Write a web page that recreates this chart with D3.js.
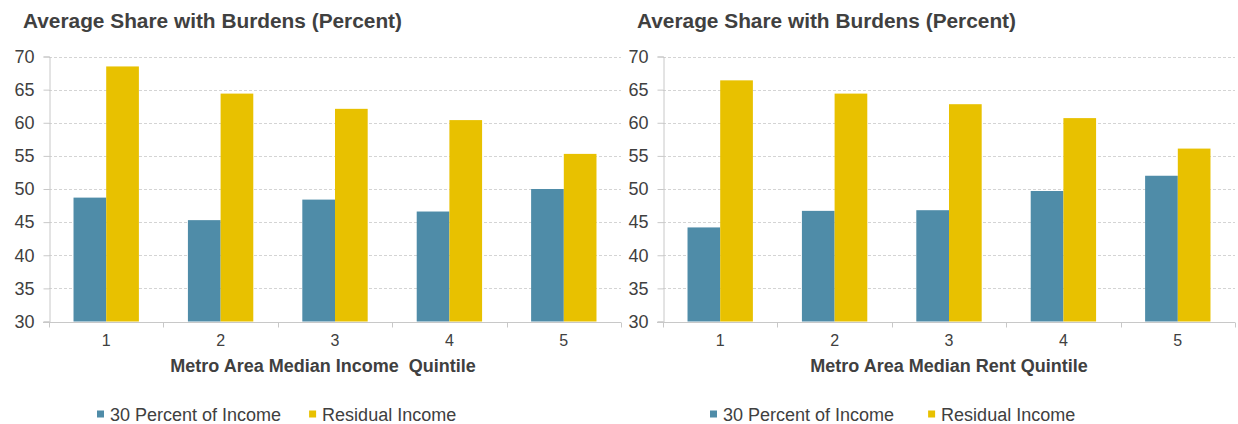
<!DOCTYPE html>
<html>
<head>
<meta charset="utf-8">
<script src="https://cdn.jsdelivr.net/npm/d3@7"></script>
<style>
  html, body { margin: 0; padding: 0; background: #ffffff; }
  svg { display: block; font-family: "Liberation Sans", Arial, sans-serif; }
</style>
</head>
<body>
<svg id="chart" width="1238" height="424"></svg>
<script>
// Quintile categories and series
const quintiles = ["1", "2", "3", "4", "5"];
const seriesNames = ["30 Percent of Income", "Residual Income"];
const seriesColors = ["#4f8ca8", "#e8c100"];

// Metro area median income quintile
const incomeThirtyPct = [48.7, 45.3, 48.4, 46.6, 50.0];
const incomeResidual  = [68.5, 64.4, 62.1, 60.4, 55.3];

// Metro area median rent quintile
const rentThirtyPct = [44.2, 46.7, 46.8, 49.7, 52.0];
const rentResidual  = [66.4, 64.4, 62.8, 60.7, 56.1];

const yTicks = [30, 35, 40, 45, 50, 55, 60, 65, 70];
const yDomain = [30, 70];

const chartTitle = "Average Share with Burdens (Percent)";

const svg = d3.select("#chart");

function drawPanel(cfg) {
  const g = svg.append("g");
  const x0 = d3.scaleBand().domain(quintiles).range([cfg.left, cfg.right]).padding(0);
  const x1 = d3.scaleBand().domain(seriesNames).range([0, x0.bandwidth()])
    .paddingInner(0).paddingOuter(0.75);
  const y = d3.scaleLinear().domain(yDomain).range([cfg.bottom, cfg.top]);

  // title
  g.append("text")
    .attr("x", cfg.titleX).attr("y", 28)
    .attr("font-size", 20).attr("font-weight", "bold").attr("fill", "#404040")
    .attr("textLength", 379).attr("lengthAdjust", "spacingAndGlyphs")
    .text(chartTitle);

  // dashed gridlines
  g.append("g").selectAll("line")
    .data(yTicks.filter(d => d > yDomain[0]))
    .join("line")
    .attr("x1", cfg.left).attr("x2", cfg.right)
    .attr("y1", d => Math.round(y(d)) + 0.5).attr("y2", d => Math.round(y(d)) + 0.5)
    .attr("stroke", "#d4d4d4").attr("stroke-dasharray", "3,2");

  // y axis
  const yAxis = g.append("g")
    .attr("transform", `translate(${cfg.left + 0.5},0)`)
    .call(d3.axisLeft(y).tickValues(yTicks).tickSize(6).tickPadding(9).tickFormat(d3.format("d")));
  yAxis.select(".domain").attr("stroke", "#c8c8c8");
  yAxis.selectAll(".tick line").attr("stroke", "#c8c8c8");
  yAxis.selectAll(".tick text")
    .attr("font-size", 18).attr("fill", "#404040")
    .attr("font-family", "\"Liberation Sans\", Arial, sans-serif");

  // bars
  const rows = quintiles.map((q, i) => ({ q, vals: [cfg.thirty[i], cfg.residual[i]] }));
  g.append("g").selectAll("g")
    .data(rows)
    .join("g")
    .attr("transform", d => `translate(${x0(d.q)},0)`)
    .selectAll("rect")
    .data(d => d.vals.map((v, k) => ({ key: seriesNames[k], v, k })))
    .join("rect")
    .attr("x", d => x1(d.key))
    .attr("width", x1.bandwidth())
    .attr("y", d => y(d.v))
    .attr("height", d => y(yDomain[0]) - y(d.v))
    .attr("fill", d => seriesColors[d.k]);

  // x axis with boundary ticks
  const xAxisG = g.append("g").attr("transform", `translate(0,${Math.round(cfg.bottom) + 0.5})`);
  xAxisG.append("line")
    .attr("x1", cfg.left - 6).attr("x2", cfg.right)
    .attr("stroke", "#c8c8c8");
  const bounds = quintiles.map(q => x0(q)).concat([cfg.right]);
  xAxisG.selectAll("line.bound")
    .data(bounds)
    .join("line").attr("class", "bound")
    .attr("x1", d => Math.round(d) + 0.5).attr("x2", d => Math.round(d) + 0.5)
    .attr("y1", 0).attr("y2", 5)
    .attr("stroke", "#c8c8c8");
  xAxisG.selectAll("text")
    .data(quintiles)
    .join("text")
    .attr("x", d => x0(d) + x0.bandwidth() / 2)
    .attr("y", 23)
    .attr("text-anchor", "middle")
    .attr("font-size", 16).attr("fill", "#404040")
    .text(d => d);

  // x axis title
  g.append("text")
    .attr("x", cfg.xTitleX).attr("y", 372)
    .attr("text-anchor", "middle")
    .attr("font-size", 18).attr("font-weight", "bold").attr("fill", "#404040")
    .attr("xml:space", "preserve")
    .style("white-space", "pre")
    .text(cfg.xTitle);

  // legend
  const leg = g.append("g").attr("transform", `translate(${cfg.legendX},421)`);
  let lx = 0;
  seriesNames.forEach((name, k) => {
    leg.append("rect").attr("x", lx).attr("y", -10.5).attr("width", 7).attr("height", 7)
      .attr("fill", seriesColors[k]);
    const t = leg.append("text").attr("x", lx + 13).attr("y", 0)
      .attr("font-size", 18).attr("fill", "#404040")
      .text(name);
    lx += 13 + t.node().getComputedTextLength() + cfg.legendGap;
  });
}

drawPanel({
  left: 49, right: 621, top: 56.5, bottom: 321.5,
  titleX: 23, xTitleX: 323, legendX: 97, legendGap: 28,
  xTitle: "Metro Area Median Income  Quintile",
  thirty: incomeThirtyPct, residual: incomeResidual
});

drawPanel({
  left: 663, right: 1235, top: 56.5, bottom: 321.5,
  titleX: 637, xTitleX: 949, legendX: 710, legendGap: 34,
  xTitle: "Metro Area Median Rent Quintile",
  thirty: rentThirtyPct, residual: rentResidual
});
</script>
</body>
</html>
